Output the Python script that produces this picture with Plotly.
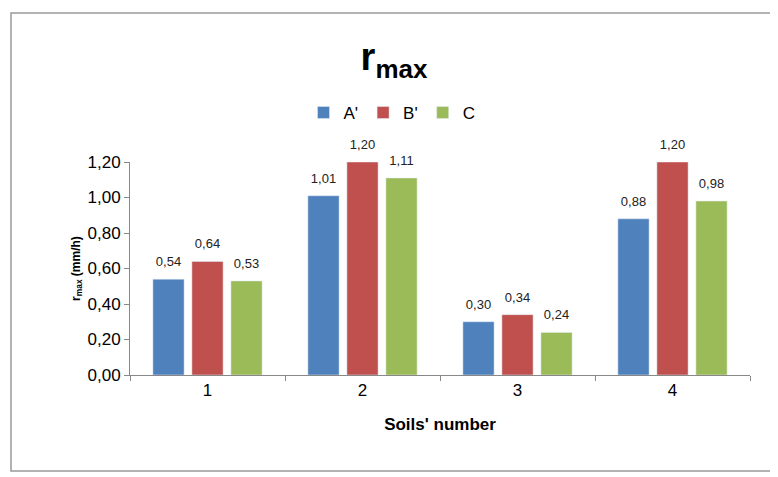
import plotly.graph_objects as go

categories = ["1", "2", "3", "4"]
series_names = ["A'", "B'", "C"]
a_vals = [0.54, 1.01, 0.30, 0.88]
b_vals = [0.64, 1.20, 0.34, 1.20]
c_vals = [0.53, 1.11, 0.24, 0.98]
colors = ["#4F81BD", "#C0504D", "#9BBB59"]

W, H = 770, 469  # page shows figure offset by 8px body margin
L, T = 122, 154
PW, PH = 620, 213

fig = go.Figure()
for name, vals, col in zip(series_names, [a_vals, b_vals, c_vals], colors):
    fig.add_trace(go.Bar(
        x=categories, y=vals, name=name, marker_color=col, offsetgroup=name,
    ))
for name, vals in zip(series_names, [a_vals, b_vals, c_vals]):
    fig.add_trace(go.Scatter(
        x=categories, y=vals, mode="markers+text", offsetgroup=name, showlegend=False,
        marker=dict(size=14, opacity=0),
        text=[f"{v:.2f}".replace(".", ",") for v in vals],
        textposition="top center", cliponaxis=False, hoverinfo="skip",
        textfont=dict(family="Liberation Sans, Arial", size=13, color="#222"),
    ))

fig.update_layout(
    width=W, height=H,
    paper_bgcolor="white", plot_bgcolor="white",
    font=dict(family="Liberation Sans, Arial", color="black"),
    separators=", ",
    barmode="group", bargap=0.245, bargroupgap=0.2,
    scattermode="group", scattergap=0.245,
    margin=dict(l=L, r=W - L - PW, t=T, b=H - T - PH, autoexpand=False),
    title=dict(text="<b>r<sub><span style='font-size:26px'>max</span></sub></b>",
               x=(394 - 8 - L) / PW, xref="paper", xanchor="center",
               y=1 - (57 - 8) / H, yanchor="middle", font=dict(size=38, color="black")),
    legend=dict(orientation="h", x=(392 - 8 - L) / PW, xanchor="center",
                y=(T + PH - (113 - 8)) / PH, yanchor="middle",
                font=dict(size=17, color="black"), itemwidth=30, traceorder="normal"),
    showlegend=True,
)
fig.update_xaxes(
    type="category", showline=True, linecolor="#888", linewidth=1,
    ticks="outside", tickson="boundaries", ticklen=5, tickcolor="#888",
    tickfont=dict(size=17), showgrid=False,
    title=dict(text="<b>Soils' number</b>", font=dict(size=17), standoff=18),
)
fig.update_yaxes(
    range=[0, 1.2], dtick=0.2, tickformat=".2f", showline=True, linecolor="#888",
    linewidth=1, ticks="outside", ticklen=5, tickcolor="#888",
    tickfont=dict(size=17), showgrid=False, zeroline=False,
    title=dict(text="<b>r<sub>max</sub> (mm/h)</b>", font=dict(size=12), standoff=4),
)
fig.add_shape(type="rect", xref="paper", yref="paper",
              x0=(11 - 8 - L) / PW, x1=(774 - 8 - L) / PW,
              y0=(T + PH - (471 - 8)) / PH, y1=(T + PH - (13 - 8)) / PH,
              line=dict(color="#999", width=1.5), fillcolor="rgba(0,0,0,0)", layer="below")

fig.write_html("out.html")
